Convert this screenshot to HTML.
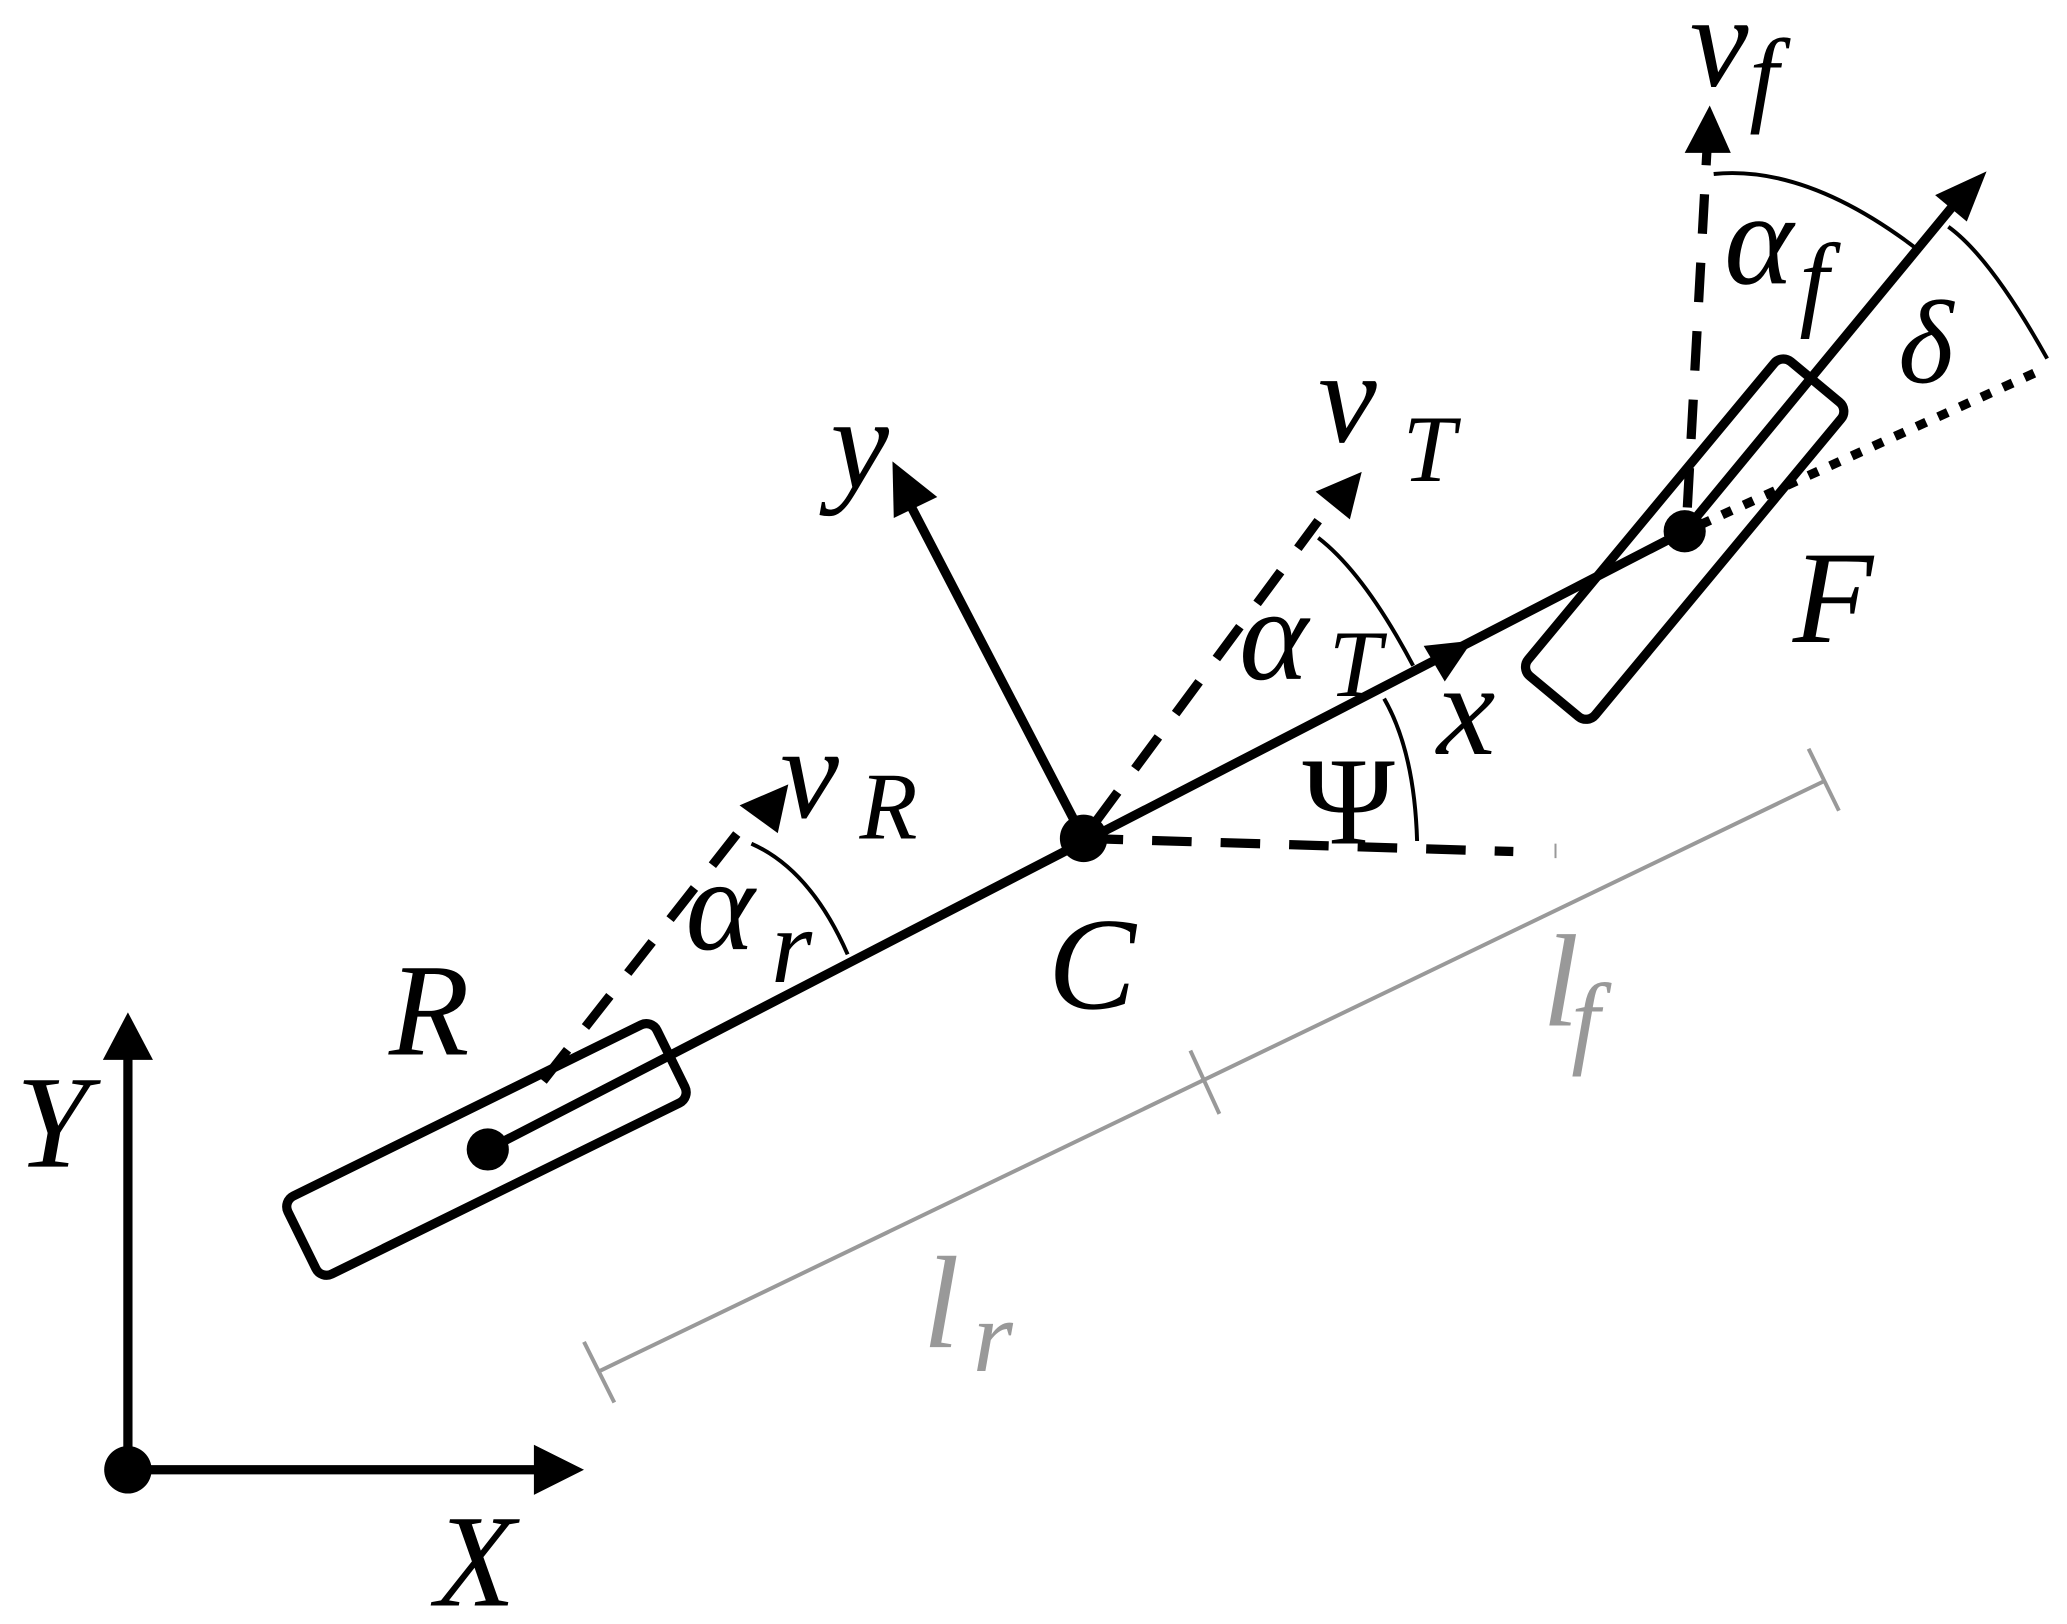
<!DOCTYPE html>
<html><head><meta charset="utf-8"><style>
html,body{margin:0;padding:0;background:#fff}
svg{display:block}
text{font-family:"Liberation Serif",serif;font-style:italic}
</style></head><body>
<svg width="2067" height="1624" viewBox="0 0 1568 1232" xmlns="http://www.w3.org/2000/svg">
<rect width="1568" height="1232" fill="#fff"/>
<g stroke="#999" stroke-width="3" fill="none">
<line x1="455" y1="1040" x2="1385" y2="592"/>
<line x1="443" y1="1018" x2="466" y2="1064"/>
<line x1="903" y1="797" x2="925" y2="845"/>
<line x1="1372" y1="568" x2="1395" y2="615"/>
<line x1="1180" y1="640" x2="1180" y2="651" stroke-width="1.5"/>
</g>
<text x="1170" y="778" font-size="100" fill="#999">l</text>
<text x="1192" y="800" font-size="78" fill="#999">f</text>
<text x="700" y="1022" font-size="100" fill="#999">l</text>
<text x="738" y="1040" font-size="78" fill="#999">r</text>

<g stroke="#000" stroke-width="7">
<line x1="97" y1="1115" x2="97" y2="800"/>
<line x1="97" y1="1115" x2="410" y2="1115"/>
</g>
<polygon points="97,768 78,804 116,804" fill="#000"/>
<polygon points="443,1115 405,1096 405,1134" fill="#000"/>
<circle cx="97" cy="1115" r="18" fill="#000"/>
<text x="12" y="885" font-size="100">Y</text>
<text x="330" y="1218" font-size="100">X</text>

<g fill="#fff" stroke="#000" stroke-width="7">
<rect x="-156" y="-33" width="312" height="66" rx="9" transform="translate(369,872) rotate(-26.2)"/>
<rect x="-155" y="-33" width="310" height="66" rx="9" transform="translate(1278,409) rotate(-50.3)"/>
</g>

<g stroke="#000" stroke-width="7" fill="none">
<line x1="370" y1="872" x2="1278" y2="403"/>
<line x1="822" y1="636" x2="690" y2="382"/>
<line x1="1278" y1="403" x2="1485" y2="152"/>
</g>
<polygon points="677,350 678,393 711,377" fill="#000"/>
<polygon points="1507,130 1468,148 1492,168" fill="#000"/>
<polygon points="1117,486 1080,490 1096,517" fill="#000"/>

<g stroke="#000" stroke-width="7" fill="none" stroke-dasharray="30,22">
<line x1="822" y1="636" x2="1148" y2="646"/>
<line x1="830" y1="625" x2="1000" y2="395"/>
<line x1="412" y1="820" x2="565" y2="625"/>
<line x1="1280" y1="385" x2="1295" y2="112"/>
</g>
<line x1="1290" y1="398" x2="1550" y2="280" stroke="#000" stroke-width="7" stroke-dasharray="8,10"/>
<polygon points="1033,358 998,373 1024,394" fill="#000"/>
<polygon points="598,595 561,611 590,632" fill="#000"/>
<polygon points="1297,80 1278,116 1313,116" fill="#000"/>

<g stroke="#000" stroke-width="3" fill="none">
<path d="M1050,530 Q1073,570 1075,638"/>
<path d="M1000,408 Q1035,435 1072,505"/>
<path d="M570,640 Q615,660 643,724"/>
<path d="M1300,132 Q1370,125 1453,188"/>
<path d="M1478,172 Q1510,195 1553,272"/>
</g>

<circle cx="370" cy="872" r="16" fill="#000"/>
<circle cx="822" cy="636" r="18" fill="#000"/>
<circle cx="1278" cy="403" r="16" fill="#000"/>

<text x="295" y="800" font-size="100">R</text>
<text x="795" y="765" font-size="100">C</text>
<text x="1360" y="487" font-size="100">F</text>
<text x="630" y="370" font-size="100">y</text>
<text x="1090" y="572" font-size="100">x</text>
<text x="988" y="640" font-size="95" style="font-style:normal">Ψ</text>
<text x="1000" y="335" font-size="100">v</text><text x="1064" y="365" font-size="72">T</text>
<text x="940" y="515" font-size="100">α</text><text x="1008" y="528" font-size="72">T</text>
<text x="592" y="620" font-size="100">v</text><text x="652" y="636" font-size="72">R</text>
<text x="520" y="720" font-size="100">α</text><text x="585" y="745" font-size="80">r</text>
<text x="1282" y="65" font-size="100">v</text><text x="1327" y="85" font-size="80">f</text>
<text x="1308" y="215" font-size="100">α</text><text x="1365" y="240" font-size="80">f</text>
<text x="1440" y="290" font-size="90">δ</text>
</svg>
</body></html>
